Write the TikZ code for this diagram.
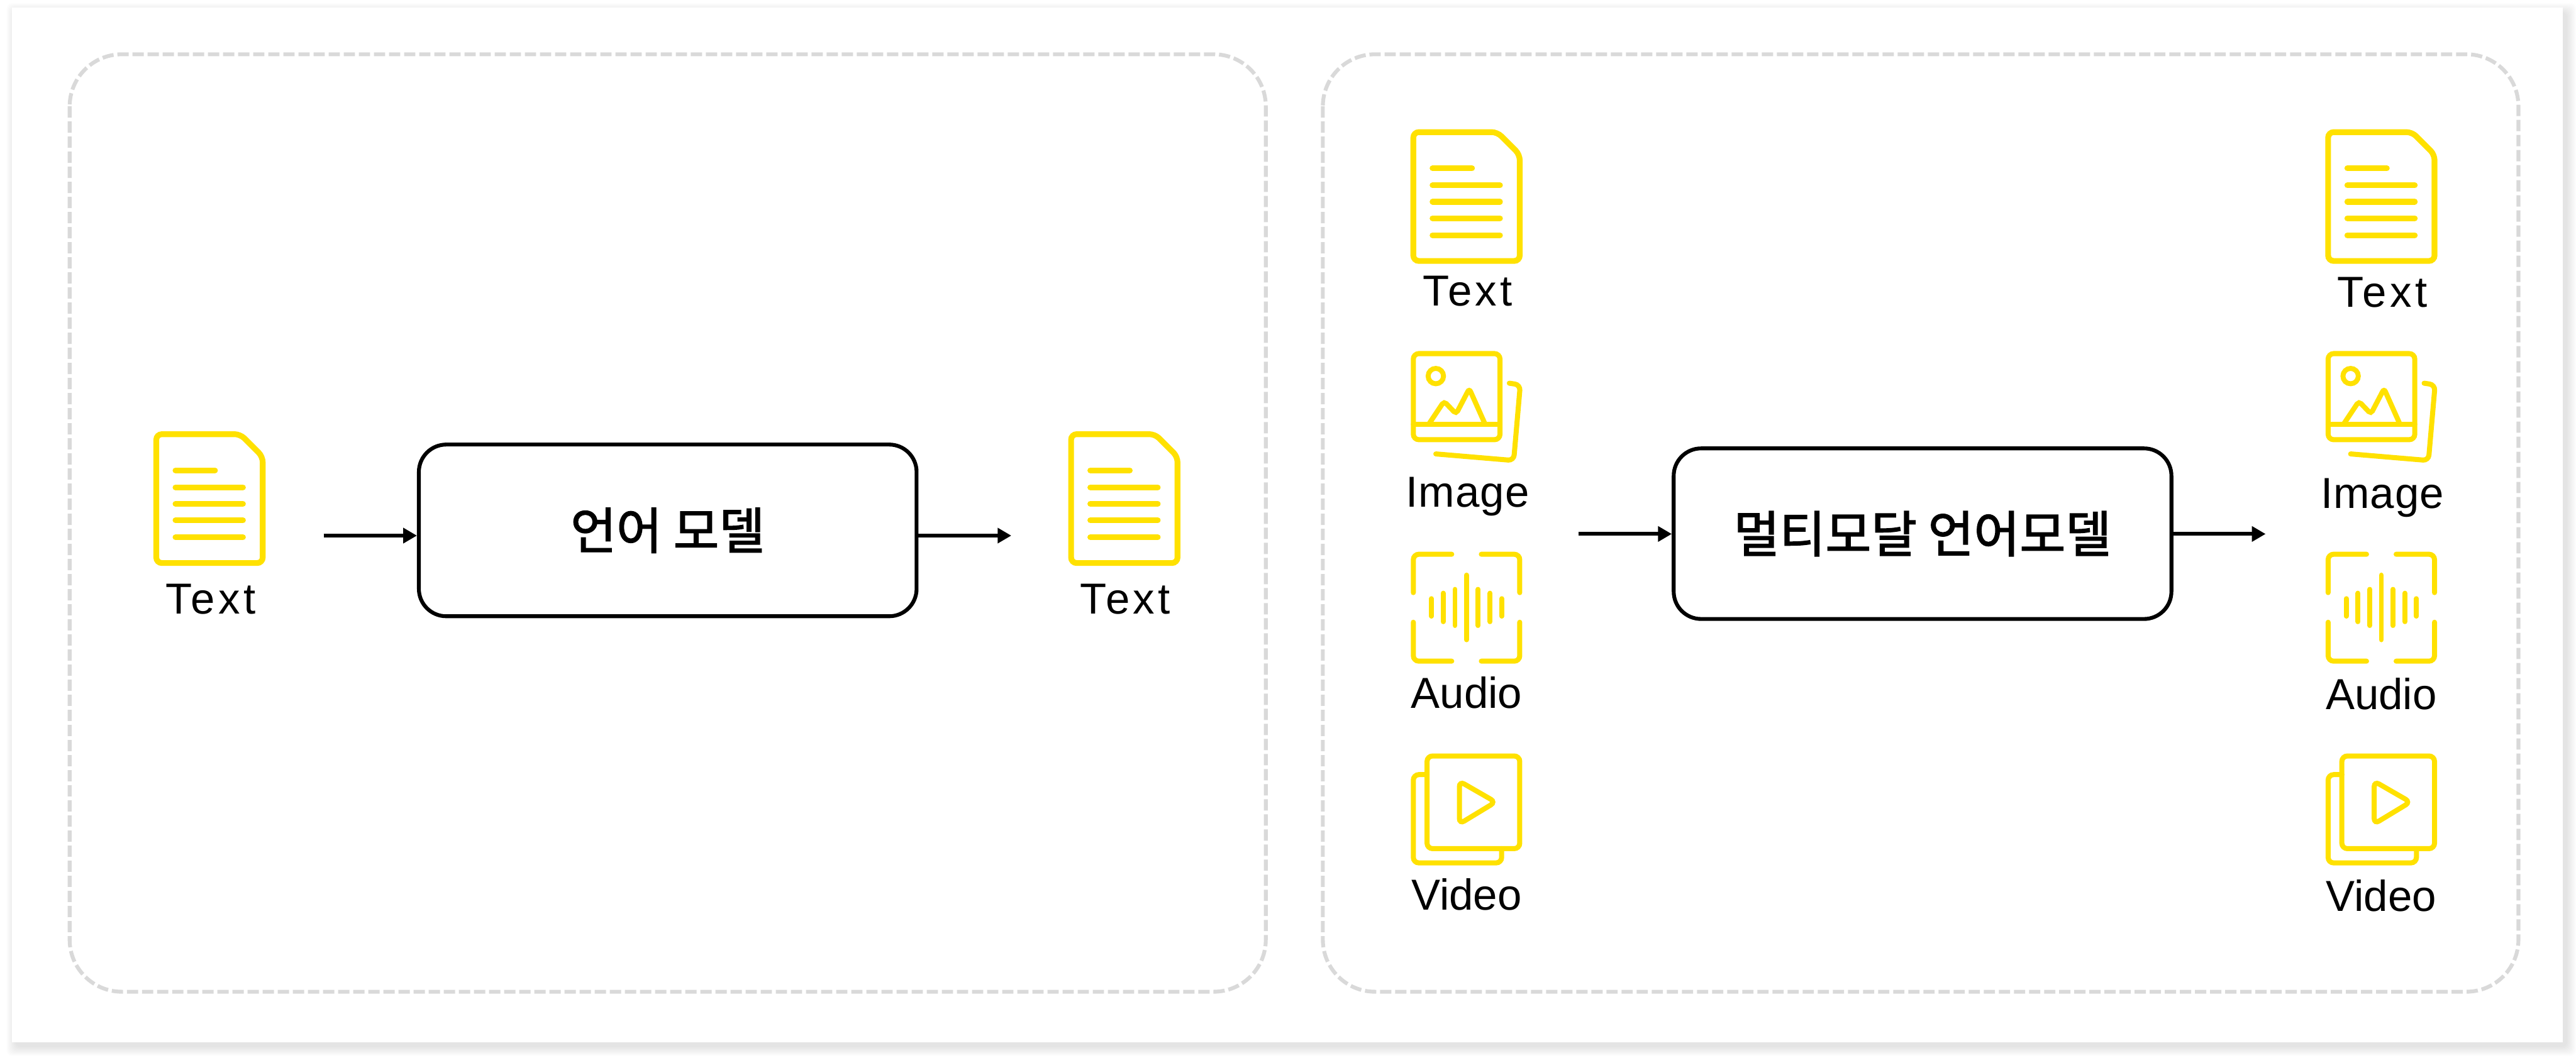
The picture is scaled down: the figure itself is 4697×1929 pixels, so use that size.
\documentclass[tikz,border=0pt]{standalone}
\usepackage{fontspec}
\setmainfont{Liberation Sans}
\newfontfamily\widefont[LetterSpace=8]{Liberation Sans}
\newfontfamily\korfont[FakeBold=2]{Noto Sans CJK KR}
\usetikzlibrary{arrows.meta}

\definecolor{iconcol}{HTML}{FFE100}
\definecolor{dashcol}{HTML}{D9D9D9}

\tikzset{
  iconline/.style={draw=iconcol, line width=0.092cm, rounded corners=0.1cm, line cap=round},
  iconbar/.style={draw=iconcol, line width=0.09cm, line cap=round},
  docline/.style={iconline, line width=0.105cm},
  docbar/.style={iconbar, line width=0.105cm},
  dashbox/.style={draw=dashcol, line width=0.07cm, rounded corners=0.95cm, dash pattern=on 0.205cm off 0.07cm},
  modelbox/.style={draw=black, line width=0.07cm, rounded corners=0.5cm, minimum width=9.07cm, font=\korfont\fontsize{25.8}{30}\selectfont},
  flow/.style={-{Triangle[length=0.25cm,width=0.27cm]}, line width=0.07cm},
  iconlabel/.style={anchor=base, inner sep=0pt, font=\fontsize{22.5}{27}\selectfont},
  pics/docicon/.style={code={
    \draw[docline] (5,5) -- (158,5) -- (199,46) -- (199,240) -- (5,240) -- cycle;
    \draw[docbar] (40,71) -- (112,71);
    \foreach \y in {102,132,162,193} \draw[docbar] (40,\y) -- (163,\y);
  }},
  pics/imageicon/.style={code={
    \draw[iconline] (5,5) rectangle (163,162);
    \draw[iconbar] (5,134) -- (163,134);
    \draw[iconbar] (46,46) circle (0.14cm);
    \draw[iconline, rounded corners=0.06cm] (33,134) -- (61,92) -- (83,115) -- (107,69) -- (136,134);
    \draw[iconline] (180,59) -- (200,62) -- (188,200) -- (46,188);
  }},
  pics/audioicon/.style={code={
    \draw[iconline] (75,4) -- (5,4) -- (5,74);
    \draw[iconline] (129,4) -- (199,4) -- (199,74);
    \draw[iconline] (5,128) -- (5,199) -- (75,199);
    \draw[iconline] (129,199) -- (199,199) -- (199,128);
    \foreach \x/\h in {38/16,59.5/26,81/33,102/59,123/33,145/26,166/16}
      \draw[iconbar] (\x,101-\h) -- (\x,101+\h);
  }},
  pics/videoicon/.style={code={
    \draw[iconline] (30,4) rectangle (199,173);
    \draw[iconline] (30,38) -- (5,38) -- (5,199) -- (166,199) -- (166,173);
    \draw[iconline] (89,50) -- (155,88) -- (89,128) -- cycle;
  }},
}

\begin{document}
\begin{tikzpicture}[x=0.01cm, y=-0.01cm]
  \useasboundingbox (0,0) rectangle (4697,1929);

  % Soft shadow and sheet behind both panels.
  \foreach \s in {2,4,...,18}
    \fill[black, opacity=0.012, rounded corners=0.1cm] (22+8-\s,14+10-\s) rectangle (4673+6+\s,1901+7+\s);
  \fill[white] (22,14) rectangle (4673,1901);

  % Dashed panels.
  \draw[dashbox] (127,99) rectangle (2308,1809);
  \draw[dashbox] (2412,99) rectangle (4592,1809);

  % Language model.
  \node[modelbox, minimum height=3.13cm] (lang) at (1217.5,967.5) {\raisebox{0.04cm}{언어 모델}};
  \pic at (280,787) {docicon};
  \pic at (1948,787) {docicon};
  \node[iconlabel] (langin) at (384,1120) {\widefont Text};
  \node[iconlabel] (langout) at (2052,1120) {\widefont Text};
  \coordinate (langa) at (590,977);
  \coordinate (langb) at (1844,977);
  \draw[flow] (langa) -- (langa -| lang.west);
  \draw[flow] (langb -| lang.east) -- (langb);

  % Multimodal language model.
  \node[modelbox, minimum height=3.11cm] (multi) at (3505.5,973.5) {\raisebox{0.04cm}{멀티모달 언어모델}};
  \coordinate (multia) at (2878,974);
  \coordinate (multib) at (4131,974);
  \draw[flow] (multia) -- (multia -| multi.west);
  \draw[flow] (multib -| multi.east) -- (multib);

  % Icon columns.
  \foreach \dx/\dy/\col in {0/0/a,1668/2/b} {
    \pic at (2572+\dx,236) {docicon};
    \pic at (2572+\dx,640) {imageicon};
    \pic at (2572+\dx,1007) {audioicon};
    \pic at (2572+\dx,1375) {videoicon};
    \node[iconlabel] (text\col) at (2676+\dx,558+\dy) {\widefont Text};
    \node[iconlabel] (image\col) at (2676+\dx,925+\dy) {\addfontfeature{LetterSpace=1.5}Image};
    \node[iconlabel] (audio\col) at (2674+\dx,1292+\dy) {Audio};
    \node[iconlabel] (video\col) at (2674+\dx,1660+\dy) {Video};
  }
\end{tikzpicture}
\end{document}
